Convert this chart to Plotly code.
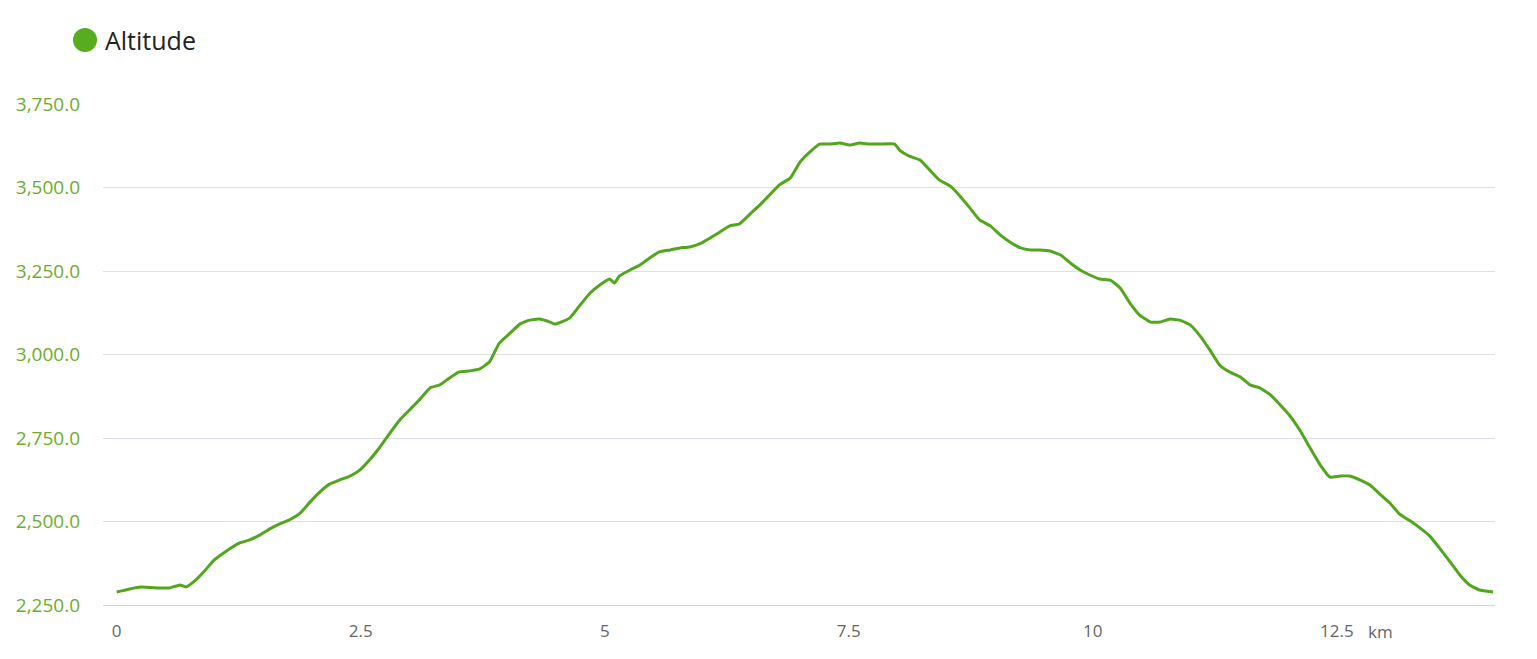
import plotly.graph_objects as go

distance_km = [0.00, 0.24, 0.44, 0.54, 0.65, 0.71, 0.80, 0.90, 1.00, 1.11, 1.26, 1.36, 1.47, 1.57,
               1.67, 1.77, 1.88, 1.98, 2.08, 2.18, 2.28, 2.39, 2.49, 2.59, 2.69, 2.80, 2.90, 3.00,
               3.10, 3.21, 3.31, 3.41, 3.51, 3.62, 3.72, 3.82, 3.92, 4.03, 4.13, 4.23, 4.33, 4.44,
               4.49, 4.64, 4.74, 4.85, 4.95, 5.05, 5.10, 5.15, 5.26, 5.36, 5.46, 5.56, 5.67, 5.77,
               5.87, 5.97, 6.08, 6.18, 6.28, 6.38, 6.49, 6.59, 6.69, 6.79, 6.90, 7.00, 7.10, 7.20,
               7.30, 7.41, 7.51, 7.61, 7.71, 7.82, 7.97, 8.02, 8.12, 8.23, 8.33, 8.43, 8.54, 8.64,
               8.74, 8.84, 8.95, 9.05, 9.15, 9.26, 9.36, 9.46, 9.56, 9.67, 9.77, 9.87, 9.97, 10.07,
               10.18, 10.28, 10.38, 10.48, 10.59, 10.69, 10.79, 10.89, 11.00, 11.10, 11.20, 11.30,
               11.40, 11.51, 11.61, 11.71, 11.82, 11.92, 12.02, 12.12, 12.22, 12.33, 12.43, 12.53,
               12.63, 12.74, 12.84, 12.94, 13.04, 13.14, 13.25, 13.35, 13.45, 13.55, 13.66, 13.76,
               13.86, 13.96, 14.10]

altitude_m = [2289, 2304, 2301, 2301, 2310, 2304, 2322, 2352, 2385, 2409, 2436, 2445, 2460, 2478,
              2493, 2505, 2525, 2558, 2588, 2612, 2624, 2636, 2654, 2684, 2720, 2765, 2804, 2834,
              2864, 2900, 2909, 2930, 2948, 2951, 2957, 2978, 3034, 3064, 3091, 3103, 3106, 3097,
              3091, 3109, 3145, 3184, 3208, 3226, 3214, 3235, 3253, 3268, 3289, 3307, 3313, 3319,
              3322, 3331, 3349, 3367, 3385, 3391, 3421, 3448, 3478, 3508, 3528, 3576, 3606, 3630,
              3630, 3633, 3627, 3633, 3630, 3630, 3630, 3612, 3594, 3582, 3552, 3522, 3504, 3474,
              3439, 3403, 3385, 3358, 3337, 3319, 3313, 3313, 3310, 3298, 3274, 3253, 3238, 3226,
              3223, 3199, 3154, 3118, 3097, 3097, 3106, 3103, 3088, 3055, 3013, 2968,
              2948, 2933, 2909, 2900, 2879, 2849, 2816, 2774, 2723, 2669, 2633, 2636,
              2636, 2624, 2609, 2582, 2556, 2523, 2502, 2481, 2457, 2421, 2379, 2340,
              2310, 2295, 2289]

y_ticks = [2250, 2500, 2750, 3000, 3250, 3500, 3750]
y_tick_labels = ["2,250.0", "2,500.0", "2,750.0", "3,000.0", "3,250.0", "3,500.0", "3,750.0"]
x_ticks = [0, 2.5, 5, 7.5, 10, 12.5]
x_tick_labels = ["0", "2.5", "5", "7.5", "10", "12.5"]
series_name = "Altitude"
unit_label = "km"

LINE = "#52a61c"
DOT = "#58ad1e"

fig = go.Figure()
fig.add_trace(go.Scatter(
    x=distance_km, y=altitude_m, mode="lines", name=series_name,
    line=dict(color=LINE, width=3, shape="spline", smoothing=0.4),
    showlegend=False, hoverinfo="x+y",
))

fig.update_layout(
    width=1521, height=643,
    margin=dict(l=95, r=34, t=96, b=46),
    paper_bgcolor="white", plot_bgcolor="white",
    font=dict(family="Open Sans, Noto Sans, sans-serif"),
    showlegend=False,
    xaxis=dict(
        range=[-0.14, 14.12], automargin=False,
        tickvals=x_ticks, ticktext=x_tick_labels,
        showgrid=False, zeroline=False,
        showline=True, linecolor="#ccd6eb", linewidth=1,
        ticks="", tickfont=dict(size=17, color="#666666"),
        ticklabelstandoff=11,
    ),
    yaxis=dict(
        range=[2250, 3750], automargin=False,
        tickvals=y_ticks, ticktext=y_tick_labels,
        showgrid=True, gridcolor="#dde0e6", gridwidth=1,
        zeroline=False, showline=False,
        ticks="", tickfont=dict(size=19, color="#6aad2e"),
        ticklabelstandoff=22,
    ),
    shapes=[dict(
        type="circle", xref="paper", yref="paper",
        xsizemode="pixel", ysizemode="pixel", xanchor=0, yanchor=1,
        x0=-30, x1=-6, y0=52, y1=76,
        fillcolor=DOT, line=dict(width=0),
    )],
    annotations=[
        dict(
            x=12.95, y=0, xref="x", yref="paper", yanchor="top", xanchor="center",
            yshift=-13, text=unit_label, showarrow=False,
            font=dict(size=17, color="#666666"),
        ),
        dict(
            x=0, y=1, xref="paper", yref="paper", xanchor="left", yanchor="middle",
            xshift=0, yshift=64, text=series_name, showarrow=False,
            font=dict(size=25, color="#222222"),
        ),
    ],
)

fig.write_html("out.html")
